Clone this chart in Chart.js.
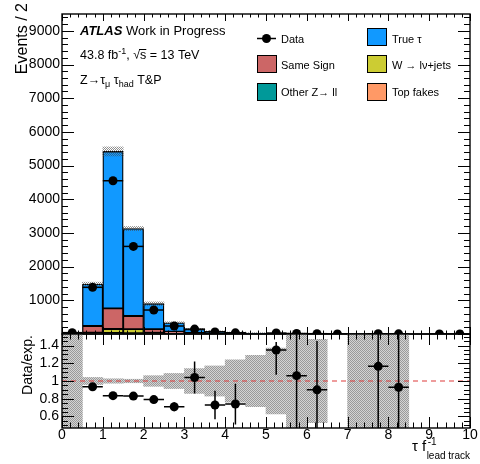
<!DOCTYPE html>
<html>
<head>
<meta charset="utf-8">
<script src="https://cdn.jsdelivr.net/npm/chart.js@4.4.1/dist/chart.umd.min.js"></script>
<style>
  body { margin: 0; background: #fff; }
  #wrap { position: relative; width: 480px; height: 464px; }
  #wrap canvas { position: absolute; left: 0; top: 0; }
</style>
</head>
<body>
<div id="wrap">
  <canvas id="mainChart" width="480" height="464"></canvas>
  <canvas id="ratioChart" width="480" height="464"></canvas>
</div>
<script>
// bins of width 0.5 in tau f^-1 (lead track)
const binCenters = [0.25, 0.75, 1.25, 1.75, 2.25, 2.75, 3.25, 3.75, 4.25, 4.75,
                    5.25, 5.75, 6.25, 6.75, 7.25, 7.75, 8.25, 8.75, 9.25, 9.75];

// expected events per process
const trueTau  = [8, 1240, 4660, 2595, 755, 265, 113, 67, 40, 25, 16, 11, 8, 0, 5, 4, 3, 0, 0, 0];
const sameSign = [4, 200, 610, 390, 110, 55, 20, 10, 6, 4, 3, 2, 1, 0, 1, 1, 1, 0, 0, 0];
const wJets    = [1, 30, 120, 120, 25, 8, 3, 1, 1, 0.5, 0.5, 0.3, 0.2, 0, 0.2, 0.2, 0.1, 0, 0, 0];
const otherZll = [1, 5, 20, 15, 5, 3, 2, 1, 0.5, 0.3, 0.2, 0.1, 0.1, 0, 0.1, 0.1, 0.1, 0, 0, 0];
const topFakes = [1, 5, 10, 10, 5, 4, 2, 1, 0.5, 0.3, 0.2, 0.1, 0.1, 0, 0.1, 0.1, 0.1, 0, 0, 0];

// relative uncertainty on the expectation (null = no expectation)
const mcRelErr = [1.0, 0.04, 0.025, 0.02, 0.06, 0.085, 0.14, 0.17, 0.24, 0.29,
                  0.37, 1.0, 0.47, null, 1.0, 1.0, 1.0, null, null, null];

// observed events
const dataCounts = [40, 1386, 4550, 2600, 712, 237, 145, 60, 35, null,
                    28, 14, 9, 2, null, 6, 4, null, 1, 1];

// data / expectation
const ratioValues = [null, 0.934, 0.835, 0.83, 0.79, 0.71, 1.04, 0.73, 0.74, null,
                     1.35, 1.06, 0.90, null, null, 1.165, 0.93, null, null, null];
const ratioErrUp   = [0, 0.02, 0.015, 0.015, 0.04, 0.05, 0.18, 0.16, 0.23, 0,
                      0.09, 0.7, 0.55, 0, 0, 0.7, 0.7, 0, 0, 0];
const ratioErrDown = [0, 0.02, 0.015, 0.015, 0.04, 0.05, 0.18, 0.16, 0.23, 0,
                      0.28, 0.7, 0.5, 0, 0, 0.7, 0.7, 0, 0, 0];

const yTicksMain = [1000, 2000, 3000, 4000, 5000, 6000, 7000, 8000, 9000];
const yTicksRatio = [0.6, 0.8, 1, 1.2, 1.4];
const xTicks = [0, 1, 2, 3, 4, 5, 6, 7, 8, 9, 10];

const FONT = '"Liberation Sans", Arial, Helvetica, sans-serif';
Chart.defaults.font.family = FONT;
Chart.defaults.color = '#000';

const COLORS = {
  trueTau: '#1199ff',
  sameSign: '#cc6666',
  wJets: '#cccc33',
  otherZll: '#009999',
  topFakes: '#ff9966',
};

// stack order, bottom to top
const layers = [
  { values: topFakes, color: COLORS.topFakes },
  { values: otherZll, color: COLORS.otherZll },
  { values: wJets, color: COLORS.wJets },
  { values: sameSign, color: COLORS.sameSign },
  { values: trueTau, color: COLORS.trueTau },
];

function checker(ctx, c1, c2) {
  const p = document.createElement('canvas');
  p.width = 2; p.height = 2;
  const g = p.getContext('2d');
  if (c2) { g.fillStyle = c2; g.fillRect(0, 0, 2, 2); }
  g.fillStyle = c1;
  g.fillRect(0, 0, 1, 1);
  g.fillRect(1, 1, 1, 1);
  return ctx.createPattern(p, 'repeat');
}

// frame with inward ticks on all four sides
const frameTicks = {
  id: 'frameTicks',
  afterDraw(chart, args, o) {
    const { ctx, chartArea: a, scales: { x, y } } = chart;
    ctx.save();
    ctx.strokeStyle = '#000';
    ctx.lineWidth = 1;
    ctx.beginPath();
    const isMajor = (v, step) => Math.abs(v / step - Math.round(v / step)) < 1e-6;
    let v0 = Math.ceil(x.min / o.xMinor - 1e-6) * o.xMinor;
    for (let i = 0; v0 + i * o.xMinor <= x.max + 1e-6; i++) {
      const v = v0 + i * o.xMinor;
      const px = Math.round(x.getPixelForValue(v)) + 0.5;
      const len = isMajor(v, o.xMajor) ? o.xLen[0] : o.xLen[1];
      ctx.moveTo(px, a.bottom); ctx.lineTo(px, a.bottom - len);
      ctx.moveTo(px, a.top); ctx.lineTo(px, a.top + len);
    }
    v0 = Math.ceil(y.min / o.yMinor - 1e-6) * o.yMinor;
    for (let i = 0; v0 + i * o.yMinor <= y.max + 1e-6; i++) {
      const v = v0 + i * o.yMinor;
      const py = Math.round(y.getPixelForValue(v)) + 0.5;
      const len = isMajor(v, o.yMajor) ? o.yLen[0] : o.yLen[1];
      ctx.moveTo(a.left, py); ctx.lineTo(a.left + len, py);
      ctx.moveTo(a.right, py); ctx.lineTo(a.right - len, py);
    }
    ctx.stroke();
    ctx.lineWidth = 1.4;
    ctx.strokeRect(Math.round(a.left), Math.round(a.top),
                   Math.round(a.right) - Math.round(a.left), Math.round(a.bottom) - Math.round(a.top));
    ctx.restore();
  }
};

// horizontal bin-width bars and vertical error bars on data points
const errorBars = {
  id: 'errorBars',
  afterDatasetsDraw(chart) {
    const { ctx, chartArea: a, scales: { x, y } } = chart;
    ctx.save();
    ctx.beginPath();
    ctx.rect(a.left, a.top, a.right - a.left, a.bottom - a.top);
    ctx.clip();
    ctx.strokeStyle = '#000';
    ctx.lineWidth = 1.5;
    chart.data.datasets.forEach(ds => {
      if (ds.errX == null) return;
      ds.data.forEach((p, j) => {
        if (p.y == null) return;
        const py = y.getPixelForValue(p.y);
        const px = x.getPixelForValue(p.x);
        ctx.beginPath();
        ctx.moveTo(x.getPixelForValue(p.x - ds.errX), py);
        ctx.lineTo(x.getPixelForValue(p.x + ds.errX), py);
        if (ds.errUp) {
          ctx.moveTo(px, y.getPixelForValue(p.y + ds.errUp[j]));
          ctx.lineTo(px, y.getPixelForValue(p.y - ds.errDown[j]));
        }
        ctx.stroke();
      });
    });
    ctx.restore();
  }
};

function richText(ctx, x, y, parts) {
  let cx = x;
  parts.forEach(([t, size, dy = 0, style = '']) => {
    ctx.font = `${style} ${size}px ${FONT}`;
    ctx.fillText(t, cx, y + dy);
    cx += ctx.measureText(t).width;
  });
  return cx;
}

function vTitle(ctx, text, x, yTop, size) {
  ctx.save();
  ctx.translate(x, yTop);
  ctx.rotate(-Math.PI / 2);
  ctx.textAlign = 'right';
  ctx.font = `${size}px ${FONT}`;
  ctx.fillText(text, 0, 0);
  ctx.restore();
}

// labels, legend and axis title of the upper panel
const mainText = {
  id: 'mainText',
  afterDraw(chart) {
    const ctx = chart.ctx;
    ctx.save();
    ctx.fillStyle = '#000';
    ctx.textBaseline = 'alphabetic';
    vTitle(ctx, 'Events / 2', 27, 3, 16);

    richText(ctx, 80, 35, [['ATLAS', 13, 0, 'italic bold'], [' Work in Progress', 13]]);

    let cx = richText(ctx, 80, 59, [['43.8 fb', 12.5], ['-1', 9, -5], [', ', 12.5], ['\u221A', 12.5]]);
    ctx.font = `12.5px ${FONT}`;
    const sw = ctx.measureText('s').width;
    ctx.fillText('s', cx, 59);
    ctx.fillRect(cx - 1, 49, sw + 1, 1);
    richText(ctx, cx + sw, 59, [[' = 13 TeV', 12.5]]);

    richText(ctx, 80, 84, [['Z\u2192\u03C4', 12.5], ['\u03BC', 9, 3], [' \u03C4', 12.5], ['had', 9, 3], [' T&P', 12.5]]);

    // legend
    ctx.strokeStyle = '#000';
    ctx.lineWidth = 1.5;
    ctx.beginPath();
    ctx.moveTo(257, 38.5); ctx.lineTo(276, 38.5);
    ctx.stroke();
    ctx.beginPath();
    ctx.arc(266.5, 38.5, 4.5, 0, Math.PI * 2);
    ctx.fill();
    ctx.font = `11px ${FONT}`;
    ctx.fillText('Data', 281, 42.5);
    const boxes = [
      [367, 28, COLORS.trueTau, 'True \u03C4', 392, 42.5],
      [257, 55, COLORS.sameSign, 'Same Sign', 281, 68.5],
      [367, 55, COLORS.wJets, 'W \u2192 l\u03BD+jets', 392, 68.5],
      [257, 83, COLORS.otherZll, 'Other Z\u2192 ll', 281, 96],
      [367, 83, COLORS.topFakes, 'Top fakes', 392, 96],
    ];
    ctx.lineWidth = 1;
    boxes.forEach(([bx, by, col, label, tx, ty]) => {
      ctx.fillStyle = col;
      ctx.fillRect(bx, by, 20, 18);
      ctx.strokeRect(bx + 0.5, by + 0.5, 19, 17);
      ctx.fillStyle = '#000';
      ctx.fillText(label, tx, ty);
    });
    ctx.restore();
  }
};

const ratioText = {
  id: 'ratioText',
  afterDraw(chart) {
    const ctx = chart.ctx;
    ctx.save();
    ctx.fillStyle = '#000';
    vTitle(ctx, 'Data/exp.', 32, 335, 14);
    // x title: tau f^-1 with "lead track" subscript, right aligned
    ctx.font = `10px ${FONT}`;
    const subW = ctx.measureText('lead track').width;
    const subX = 470 - subW;
    ctx.fillText('lead track', subX, 459);
    ctx.fillText('-1', subX + 1, 445);
    ctx.font = `15px ${FONT}`;
    ctx.textAlign = 'right';
    ctx.fillText('\u03C4 f', subX - 0.5, 451);
    ctx.restore();
  }
};

// ---------- upper panel ----------
const mainCanvas = document.getElementById('mainChart');
const mainCtx = mainCanvas.getContext('2d');

const totals = binCenters.map((_, i) => layers.reduce((s, l) => s + l.values[i], 0));
const stackSets = [];
let below = binCenters.map(() => 0);
layers.forEach((l, k) => {
  const lo = below.slice();
  below = below.map((b, i) => b + l.values[i]);
  stackSets.push({
    type: 'bar',
    data: binCenters.map((c, i) => ({ x: c, y: [lo[i], below[i]] })),
    backgroundColor: l.color,
    borderColor: '#000',
    borderWidth: 1.3,
    borderSkipped: false,
    grouped: false,
    barPercentage: 1,
    categoryPercentage: 1,
    order: 10 - k,
  });
});

new Chart(mainCanvas, {
  type: 'bar',
  data: {
    datasets: [
      {
        type: 'line',
        data: binCenters.map((c, i) => ({ x: c, y: dataCounts[i] })),
        showLine: false,
        pointRadius: 4.5,
        pointBackgroundColor: '#000',
        pointBorderWidth: 0,
        errX: 0.25,
        order: 0,
      },
      {
        type: 'bar',
        data: binCenters.map((c, i) => ({
          x: c,
          y: mcRelErr[i] == null ? null : [totals[i] * (1 - mcRelErr[i]), totals[i] * (1 + mcRelErr[i])],
        })),
        backgroundColor: checker(mainCtx, 'rgba(70,70,70,0.6)'),
        borderWidth: 0,
        grouped: false,
        barPercentage: 1,
        categoryPercentage: 1,
        order: 1,
      },
      ...stackSets,
    ],
  },
  options: {
    responsive: false,
    animation: false,
    devicePixelRatio: 1,
    layout: { padding: { left: 0, right: 10, top: 14, bottom: 130 } },
    plugins: {
      legend: { display: false },
      tooltip: { enabled: false },
      frameTicks: { xMajor: 1, xMinor: 0.2, xLen: [7, 3.5], yMajor: 1000, yMinor: 200, yLen: [12, 6] },
    },
    scales: {
      x: {
        type: 'linear', min: 0, max: 10, offset: false,
        grid: { display: false, drawTicks: false, offset: false },
        border: { display: false },
        ticks: { display: false },
        afterFit: s => { s.height = 0; },
      },
      y: {
        min: 0, max: 9500,
        grid: { display: false, drawTicks: false },
        border: { display: false },
        ticks: { font: { size: 14 }, padding: 2, callback: v => String(v) },
        afterBuildTicks: s => { s.ticks = yTicksMain.map(v => ({ value: v })); },
        afterFit: s => { s.width = 62; },
      },
    },
  },
  plugins: [errorBars, frameTicks, mainText],
});

// ---------- ratio panel ----------
const ratioCanvas = document.getElementById('ratioChart');
const ratioCtx = ratioCanvas.getContext('2d');

new Chart(ratioCanvas, {
  type: 'bar',
  data: {
    datasets: [
      {
        type: 'line',
        data: binCenters.map((c, i) => ({ x: c, y: ratioValues[i] })),
        showLine: false,
        pointRadius: 4.5,
        pointBackgroundColor: '#000',
        pointBorderWidth: 0,
        errX: 0.25,
        errUp: ratioErrUp,
        errDown: ratioErrDown,
        order: 0,
      },
      {
        type: 'line',
        data: [{ x: 0, y: 1 }, { x: 10, y: 1 }],
        borderColor: '#dd3b3b',
        borderWidth: 1.2,
        borderDash: [5, 4],
        pointRadius: 0,
        order: 1,
      },
      {
        type: 'bar',
        data: binCenters.map((c, i) => ({
          x: c,
          y: mcRelErr[i] == null ? null : [1 - mcRelErr[i], 1 + mcRelErr[i]],
        })),
        backgroundColor: checker(ratioCtx, '#9a9a9a', '#d4d4d4'),
        borderWidth: 0,
        grouped: false,
        barPercentage: 1,
        categoryPercentage: 1,
        order: 2,
      },
    ],
  },
  options: {
    responsive: false,
    animation: false,
    devicePixelRatio: 1,
    layout: { padding: { left: 0, right: 10, top: 334, bottom: 0 } },
    plugins: {
      legend: { display: false },
      tooltip: { enabled: false },
      frameTicks: { xMajor: 1, xMinor: 0.2, xLen: [11, 5.5], yMajor: 0.2, yMinor: 0.05, yLen: [12, 6] },
    },
    scales: {
      x: {
        type: 'linear', min: 0, max: 10, offset: false,
        grid: { display: false, drawTicks: false, offset: false },
        border: { display: false },
        ticks: { font: { size: 14 }, padding: -1, maxRotation: 0, callback: v => String(v) },
        afterBuildTicks: s => { s.ticks = xTicks.map(v => ({ value: v })); },
        afterFit: s => { s.height = 36; },
      },
      y: {
        min: 0.47, max: 1.53,
        grid: { display: false, drawTicks: false },
        border: { display: false },
        ticks: { font: { size: 14 }, padding: 3, callback: v => (v === 1 ? '1' : v.toFixed(1)) },
        afterBuildTicks: s => { s.ticks = yTicksRatio.map(v => ({ value: v })); },
        afterFit: s => { s.width = 62; },
      },
    },
  },
  plugins: [errorBars, frameTicks, ratioText],
});
</script>
</body>
</html>
